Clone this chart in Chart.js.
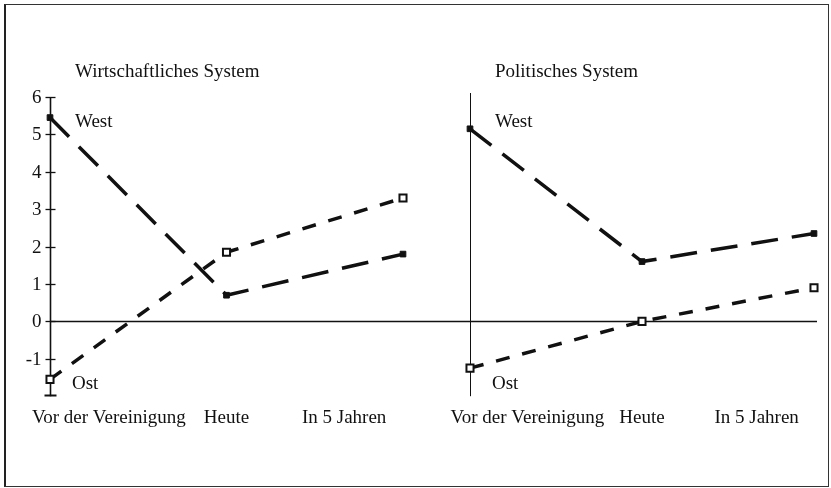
<!DOCTYPE html>
<html lang="de">
<head>
<meta charset="utf-8">
<title>Wirtschaftliches und politisches System</title>
<script src="https://cdn.jsdelivr.net/npm/chart.js@4.4.0/dist/chart.umd.min.js"></script>
<style>
    html, body { margin: 0; padding: 0; background: #fff; }
    #rahmen { position: relative; width: 831px; height: 488px; overflow: hidden; background: #fff; }
    #linie { position: absolute; left: 4px; top: 4px; width: 822px; height: 481px; border: 1px solid #333; border-left: 2px solid #222; }
    canvas { position: absolute; top: 0; }
    #links { left: 0; }
    #rechts { left: 420px; }
</style>
</head>
<body>
<div id="rahmen">
    <div id="linie"></div>
    <canvas id="links" width="420" height="488"></canvas>
    <canvas id="rechts" width="411" height="488"></canvas>
</div>
<script>
// Daten
var kategorien = ['Vor der Vereinigung', 'Heute', 'In 5 Jahren'];
var wirtschaftWest = [5.45, 0.7, 1.8];
var wirtschaftOst = [-1.55, 1.85, 3.3];
var politikWest = [5.15, 1.6, 2.35];
var politikOst = [-1.25, 0, 0.9];
var yTicks = [6, 5, 4, 3, 2, 1, 0, -1];
var yMin = -2;
var yMax = 6;
var titel = ['Wirtschaftliches System', 'Politisches System'];
var serien = ['West', 'Ost'];

var familie = '"Liberation Serif", "Times New Roman", serif';
var schrift = '19px ' + familie;
var schwarz = '#111';

// zeichnet Achsen, Nulllinie und Texte
function rahmenPlugin(titelText, mitSkala) {
    return {
        id: 'rahmenPlugin',
        beforeDatasetsDraw: function(chart) {
            var ctx = chart.ctx;
            var a = chart.chartArea;
            var y = chart.scales.y;
            var y0 = Math.round(y.getPixelForValue(0)) + 0.5;
            ctx.save();
            ctx.strokeStyle = schwarz;

            // Nulllinie
            ctx.lineWidth = 1.5;
            ctx.beginPath();
            if (mitSkala) {
                ctx.moveTo(a.left, y0);
                ctx.lineTo(chart.width, y0);
            } else {
                ctx.moveTo(0, y0);
                ctx.lineTo(a.right + 3, y0);
            }
            ctx.stroke();

            // senkrechte Achse
            var x = Math.round(a.left) + 0.5;
            ctx.lineWidth = mitSkala ? 1.6 : 1;
            ctx.beginPath();
            ctx.moveTo(x, mitSkala ? a.top : a.top - 4);
            ctx.lineTo(x, a.bottom);
            ctx.stroke();

            if (mitSkala) {
                ctx.lineWidth = 1.3;
                for (var i = 0; i < yTicks.length; i++) {
                    var ty = Math.round(y.getPixelForValue(yTicks[i])) + 0.5;
                    ctx.beginPath();
                    ctx.moveTo(x - 5, ty);
                    ctx.lineTo(x + 5, ty);
                    ctx.stroke();
                }
                var by = Math.round(y.getPixelForValue(yMin)) - 0.5;
                ctx.lineWidth = 2;
                ctx.beginPath();
                ctx.moveTo(x - 6, by);
                ctx.lineTo(x + 6, by);
                ctx.stroke();

                ctx.fillStyle = schwarz;
                ctx.font = schrift;
                ctx.textAlign = 'right';
                ctx.textBaseline = 'middle';
                for (var j = 0; j < yTicks.length; j++) {
                    ctx.fillText(String(yTicks[j]), x - 9, y.getPixelForValue(yTicks[j]) + 1);
                }
            }
            ctx.restore();
        },
        afterDraw: function(chart) {
            var ctx = chart.ctx;
            var a = chart.chartArea;
            var y = chart.scales.y;
            ctx.save();
            ctx.fillStyle = schwarz;
            ctx.font = schrift;
            ctx.textAlign = 'left';
            ctx.textBaseline = 'alphabetic';
            ctx.fillText(titelText, a.left + 25, a.top - 20);
            ctx.fillText(serien[0], a.left + 25, y.getPixelForValue(5.2));
            ctx.fillText(serien[1], a.left + 22, y.getPixelForValue(-1.8));
            ctx.restore();
        }
    };
}

function westDatensatz(werte) {
    return {
        label: serien[0],
        data: werte,
        borderColor: schwarz,
        borderWidth: 3.5,
        borderDash: [27, 14],
        borderCapStyle: 'butt',
        tension: 0,
        pointStyle: 'rect',
        pointRadius: 4,
        pointBackgroundColor: schwarz,
        pointBorderColor: schwarz,
        pointBorderWidth: 1
    };
}

function ostDatensatz(werte) {
    return {
        label: serien[1],
        data: werte,
        borderColor: schwarz,
        borderWidth: 3.5,
        borderDash: [14, 13],
        borderCapStyle: 'butt',
        tension: 0,
        pointStyle: 'rect',
        pointRadius: 5,
        pointBackgroundColor: '#fff',
        pointBorderColor: schwarz,
        pointBorderWidth: 2
    };
}

function zeichneDiagramm(id, titelText, west, ost, mitSkala) {
    var ctx = document.getElementById(id).getContext('2d');
    return new Chart(ctx, {
        type: 'line',
        data: {
            labels: kategorien,
            datasets: [westDatensatz(west), ostDatensatz(ost)]
        },
        options: {
            responsive: false,
            animation: false,
            devicePixelRatio: 1,
            layout: {
                padding: { top: 97, left: 50, right: 17, bottom: 49 }
            },
            plugins: {
                legend: { display: false },
                tooltip: { enabled: false },
                title: { display: false }
            },
            scales: {
                x: {
                    type: 'category',
                    display: false,
                    offset: false
                },
                xText: {
                    type: 'category',
                    labels: kategorien,
                    position: 'bottom',
                    offset: true,
                    grid: { display: false, drawTicks: false },
                    border: { display: false },
                    ticks: {
                        color: schwarz,
                        font: { family: familie, size: 19 },
                        padding: 10,
                        maxRotation: 0,
                        autoSkip: false
                    }
                },
                y: {
                    display: false,
                    min: yMin,
                    max: yMax
                }
            }
        },
        plugins: [rahmenPlugin(titelText, mitSkala)]
    });
}

zeichneDiagramm('links', titel[0], wirtschaftWest, wirtschaftOst, true);
zeichneDiagramm('rechts', titel[1], politikWest, politikOst, false);
</script>
</body>
</html>
